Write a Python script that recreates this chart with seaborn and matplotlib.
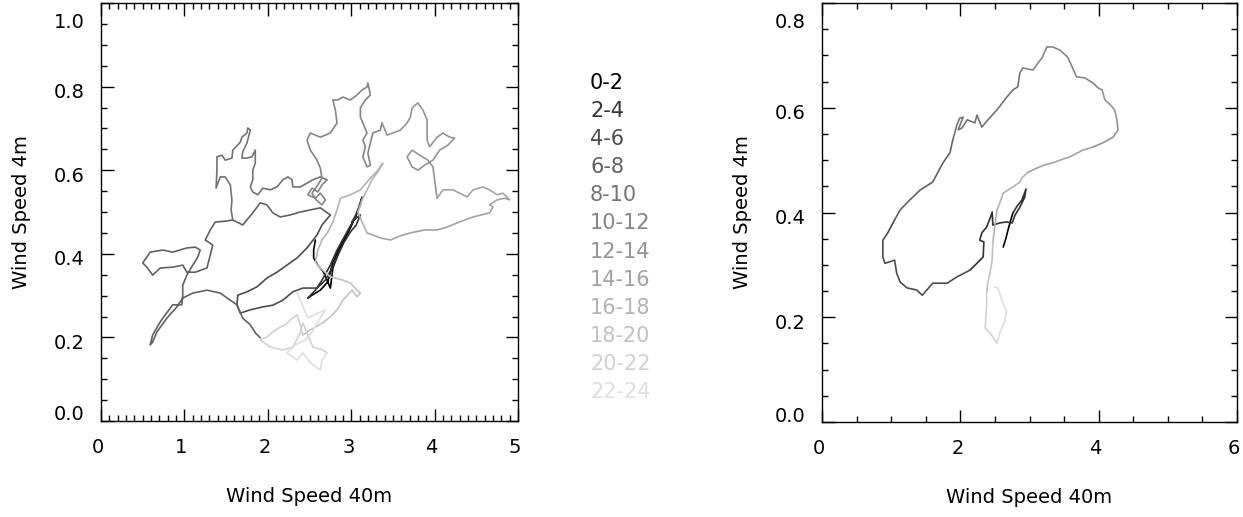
import matplotlib
matplotlib.use("Agg")
import matplotlib.pyplot as plt
import matplotlib.transforms as mtransforms
import seaborn as sns
import pandas as pd
from matplotlib.ticker import MultipleLocator

sns.set_theme(style="white")
plt.rcParams['font.family'] = ['DejaVu Sans']

HOURS = ["0-2", "2-4", "4-6", "6-8", "8-10", "10-12", "12-14",
         "14-16", "16-18", "18-20", "20-22", "22-24"]

# ---------------- left panel (40m vs 4m) ----------------
lx_00 = [2.57, 2.55, 2.55, 2.60, 2.67, 2.71, 2.75, 2.77, 2.78, 2.84, 2.93, 2.99, 3.02, 2.96, 2.87, 2.78, 2.72, 2.63, 2.53, 2.48]
ly_00 = [0.433, 0.409, 0.390, 0.373, 0.356, 0.337, 0.318, 0.349, 0.366, 0.397, 0.438, 0.462, 0.476, 0.452, 0.419, 0.380, 0.333, 0.313, 0.301, 0.294]
lx_02 = [2.48, 2.57, 2.65, 2.75, 2.83, 2.91, 2.99, 3.05, 3.08, 3.13, 3.11, 3.06, 3.01, 3.03, 3.11, 3.06, 2.99, 2.91, 2.84, 2.77, 2.69, 2.59]
ly_02 = [0.294, 0.313, 0.337, 0.373, 0.409, 0.438, 0.467, 0.486, 0.505, 0.536, 0.517, 0.495, 0.476, 0.481, 0.493, 0.469, 0.452, 0.426, 0.397, 0.366, 0.337, 0.318]
lx_04 = [2.59, 2.42, 2.30, 2.18, 2.06, 1.94, 1.79, 1.67, 1.63, 1.64, 1.75, 1.87, 1.99, 2.11, 2.23, 2.35, 2.47, 2.59, 2.65, 2.75]
ly_04 = [0.318, 0.318, 0.309, 0.289, 0.277, 0.273, 0.266, 0.258, 0.278, 0.301, 0.309, 0.321, 0.342, 0.356, 0.373, 0.390, 0.414, 0.445, 0.469, 0.493]
lx_06 = [2.75, 2.63, 2.51, 2.39, 2.27, 2.15, 2.06, 1.99, 1.91, 1.82, 1.70, 1.58, 1.49, 1.37, 1.31, 1.25, 1.34, 1.31, 1.27, 1.13,
         1.03, 0.98, 0.86, 0.71, 0.62, 0.55, 0.50, 0.59, 0.74, 0.86, 1.03, 1.13, 1.19, 1.16, 1.10, 1.03, 0.98, 0.98, 0.97, 0.86,
         0.77, 0.71, 0.62, 0.59, 0.62, 0.67, 0.79, 0.91, 0.98, 1.10, 1.27, 1.43, 1.55, 1.63, 1.70, 1.79, 1.85, 1.91]
ly_06 = [0.493, 0.510, 0.505, 0.500, 0.493, 0.488, 0.498, 0.517, 0.522, 0.498, 0.469, 0.481, 0.478, 0.476, 0.457, 0.433, 0.421, 0.397, 0.366, 0.356,
         0.356, 0.373, 0.368, 0.366, 0.349, 0.368, 0.378, 0.404, 0.409, 0.404, 0.414, 0.416, 0.409, 0.392, 0.373, 0.349, 0.325, 0.301, 0.278, 0.278,
         0.254, 0.237, 0.206, 0.182, 0.189, 0.213, 0.246, 0.273, 0.294, 0.306, 0.313, 0.306, 0.289, 0.278, 0.246, 0.230, 0.211, 0.199]
lx_08 = [1.58, 1.56, 1.57, 1.55, 1.49, 1.43, 1.38, 1.39, 1.39, 1.45, 1.49, 1.57, 1.58, 1.67, 1.69, 1.75, 1.76, 1.79, 1.75, 1.70, 1.69,
         1.75, 1.81, 1.85, 1.85, 1.82, 1.82, 1.79, 1.82, 1.88, 1.94, 2.03, 2.11, 2.18, 2.24, 2.29, 2.30, 2.39, 2.47, 2.54, 2.63, 2.71]
ly_08 = [0.481, 0.505, 0.529, 0.565, 0.584, 0.584, 0.557, 0.600, 0.632, 0.636, 0.624, 0.629, 0.648, 0.667, 0.679, 0.689, 0.701, 0.696, 0.665, 0.644, 0.629,
         0.629, 0.632, 0.648, 0.617, 0.600, 0.577, 0.560, 0.548, 0.541, 0.557, 0.553, 0.560, 0.577, 0.584, 0.577, 0.560, 0.560, 0.569, 0.577, 0.584, 0.577]
lx_10 = [2.71, 2.65, 2.60, 2.53, 2.48, 2.57, 2.63, 2.69, 2.65, 2.58, 2.53, 2.60, 2.65, 2.63, 2.59, 2.51, 2.47, 2.51, 2.63, 2.75, 2.83, 2.81, 2.78,
         2.84, 2.90, 2.99, 3.07, 3.13, 3.19, 3.20, 3.23, 3.17, 3.11, 3.11, 3.14, 3.19, 3.14, 3.17, 3.14, 3.19, 3.23, 3.20, 3.23, 3.26, 3.35, 3.37]
ly_10 = [0.577, 0.565, 0.548, 0.557, 0.541, 0.533, 0.545, 0.529, 0.517, 0.529, 0.545, 0.565, 0.581, 0.605, 0.624, 0.648, 0.672, 0.689, 0.679, 0.689, 0.713, 0.744, 0.768,
         0.768, 0.775, 0.768, 0.780, 0.792, 0.799, 0.809, 0.780, 0.768, 0.749, 0.727, 0.713, 0.689, 0.672, 0.656, 0.632, 0.608, 0.612, 0.641, 0.665, 0.689, 0.696, 0.713]
lx_12 = [3.37, 3.43, 3.50, 3.59, 3.67, 3.71, 3.73, 3.77, 3.80, 3.86, 3.91, 3.91, 3.94, 4.03, 4.10, 4.18, 4.24, 4.16, 4.06, 3.98, 3.88,
         3.80, 3.73, 3.67, 3.73, 3.82, 3.92, 3.98, 4.00, 4.03]
ly_12 = [0.713, 0.684, 0.689, 0.696, 0.713, 0.727, 0.749, 0.756, 0.761, 0.744, 0.720, 0.672, 0.656, 0.679, 0.689, 0.679, 0.677, 0.660, 0.648, 0.624, 0.612,
         0.600, 0.608, 0.632, 0.648, 0.636, 0.624, 0.608, 0.577, 0.533]
lx_14 = [4.03, 4.10, 4.22, 4.30, 4.39, 4.46, 4.58, 4.66, 4.75, 4.82, 4.90, 4.84, 4.75, 4.66, 4.70, 4.66, 4.46, 4.27, 4.15, 4.03, 3.88, 3.71, 3.59, 3.47, 3.35, 3.19]
ly_14 = [0.533, 0.553, 0.553, 0.545, 0.536, 0.553, 0.560, 0.553, 0.541, 0.545, 0.529, 0.533, 0.529, 0.517, 0.512, 0.498, 0.488, 0.474, 0.464, 0.457, 0.457, 0.450, 0.443, 0.433, 0.438, 0.450]
lx_16 = [3.19, 3.13, 3.08, 3.13, 3.19, 3.25, 3.32, 3.38, 3.32, 3.23, 3.11, 2.99, 2.87, 2.83, 2.78, 2.72, 2.65, 2.60, 2.57]
ly_16 = [0.450, 0.476, 0.500, 0.529, 0.553, 0.577, 0.596, 0.617, 0.600, 0.581, 0.553, 0.541, 0.533, 0.505, 0.476, 0.452, 0.433, 0.409, 0.380]
lx_18 = [2.57, 2.63, 2.75, 2.90, 2.99, 3.07, 3.11, 3.07, 3.01, 2.90, 2.83, 2.75, 2.66, 2.51, 2.42]
ly_18 = [0.380, 0.366, 0.345, 0.337, 0.330, 0.313, 0.306, 0.297, 0.313, 0.289, 0.266, 0.249, 0.235, 0.218, 0.206]
lx_20 = [2.42, 2.39, 2.35, 2.27, 2.21, 2.15, 2.06, 1.99, 1.91, 2.03, 2.18, 2.30, 2.39, 2.42, 2.47, 2.54, 2.66, 2.71]
ly_20 = [0.206, 0.230, 0.254, 0.242, 0.230, 0.225, 0.213, 0.201, 0.194, 0.177, 0.170, 0.177, 0.211, 0.235, 0.211, 0.177, 0.170, 0.163]
lx_22 = [2.71, 2.65, 2.63, 2.51, 2.42, 2.35, 2.23, 2.33, 2.45, 2.53, 2.60, 2.69, 2.48, 2.39, 2.35]
ly_22 = [0.163, 0.146, 0.122, 0.139, 0.163, 0.146, 0.163, 0.182, 0.194, 0.213, 0.237, 0.266, 0.247, 0.289, 0.309]

# ---------------- right panel ----------------
rx_00 = [2.62, 2.66, 2.69, 2.73, 2.76]
ry_00 = [0.334, 0.351, 0.367, 0.386, 0.399]
rx_02 = [2.76, 2.82, 2.89, 2.95, 2.93, 2.86, 2.79, 2.75, 2.66, 2.57, 2.47, 2.46, 2.43, 2.38, 2.31, 2.28, 2.34, 2.33, 2.24, 2.14]
ry_02 = [0.399, 0.412, 0.424, 0.445, 0.429, 0.410, 0.395, 0.380, 0.382, 0.380, 0.376, 0.401, 0.389, 0.372, 0.361, 0.347, 0.344, 0.315, 0.303, 0.290]
rx_04 = [2.14, 1.95, 1.81, 1.60, 1.45, 1.37, 1.23, 1.13, 1.08, 1.05, 0.91, 0.88, 0.88, 0.95, 1.05]
ry_04 = [0.290, 0.277, 0.265, 0.265, 0.242, 0.252, 0.256, 0.267, 0.284, 0.309, 0.303, 0.315, 0.347, 0.361, 0.386]
rx_06 = [1.05, 1.13, 1.27, 1.42, 1.60, 1.75, 1.85, 1.89]
ry_06 = [0.386, 0.405, 0.424, 0.443, 0.458, 0.495, 0.514, 0.538]
rx_08 = [1.89, 1.95, 1.99, 2.04, 1.97, 2.02, 2.10, 2.21, 2.24, 2.31, 2.40, 2.53, 2.67, 2.76, 2.83, 2.86]
ry_08 = [0.538, 0.567, 0.580, 0.582, 0.558, 0.561, 0.577, 0.571, 0.586, 0.563, 0.577, 0.596, 0.620, 0.634, 0.640, 0.666]
rx_10 = [2.86, 2.90, 3.05, 3.12, 3.18, 3.25, 3.34, 3.44, 3.55, 3.61, 3.68, 3.80, 3.92, 3.99, 4.05]
ry_10 = [0.666, 0.676, 0.672, 0.685, 0.695, 0.716, 0.716, 0.710, 0.697, 0.680, 0.659, 0.657, 0.647, 0.638, 0.634]
rx_12 = [4.05, 4.09, 4.16, 4.23, 4.26, 4.28, 4.21, 4.06, 3.92]
ry_12 = [0.634, 0.615, 0.607, 0.596, 0.580, 0.558, 0.544, 0.533, 0.525]
rx_14 = [3.92, 3.77, 3.58, 3.44, 3.34, 3.22, 3.11, 2.98]
ry_14 = [0.525, 0.519, 0.506, 0.500, 0.495, 0.491, 0.485, 0.477]
rx_16 = [2.98, 2.89, 2.86, 2.76, 2.62, 2.57, 2.53, 2.50, 2.47]
ry_16 = [0.477, 0.466, 0.458, 0.449, 0.437, 0.418, 0.405, 0.376, 0.342]
rx_18 = [2.47, 2.46, 2.43, 2.40, 2.38]
ry_18 = [0.342, 0.309, 0.286, 0.267, 0.246]
rx_20 = [2.38, 2.38, 2.37, 2.36, 2.43, 2.53]
ry_20 = [0.246, 0.223, 0.199, 0.179, 0.170, 0.151]
rx_22 = [2.53, 2.57, 2.64, 2.67, 2.60, 2.54, 2.49]
ry_22 = [0.151, 0.170, 0.191, 0.210, 0.233, 0.256, 0.258]

left_x = [lx_00, lx_02, lx_04, lx_06, lx_08, lx_10, lx_12, lx_14, lx_16, lx_18, lx_20, lx_22]
left_y = [ly_00, ly_02, ly_04, ly_06, ly_08, ly_10, ly_12, ly_14, ly_16, ly_18, ly_20, ly_22]
right_x = [rx_00, rx_02, rx_04, rx_06, rx_08, rx_10, rx_12, rx_14, rx_16, rx_18, rx_20, rx_22]
right_y = [ry_00, ry_02, ry_04, ry_06, ry_08, ry_10, ry_12, ry_14, ry_16, ry_18, ry_20, ry_22]

LEFT_XTICKS = [0, 1, 2, 3, 4, 5]
RIGHT_XTICKS = [0, 2, 4, 6]
LEFT_YTICKS = [0.0, 0.2, 0.4, 0.6, 0.8, 1.0]
RIGHT_YTICKS = [0.0, 0.2, 0.4, 0.6, 0.8]


def frame(xs, ys):
    rows = []
    for h, xa, ya in zip(HOURS, xs, ys):
        for k, (a, b) in enumerate(zip(xa, ya)):
            rows.append({"hour": h, "step": k, "ws40": a, "ws4": b})
    return pd.DataFrame(rows)


grays = [0.0, 0.2, 0.3, 0.38, 0.45, 0.52, 0.58, 0.64, 0.7, 0.76, 0.82, 0.87]
palette = {h: (g, g, g) for h, g in zip(HOURS, grays)}

fig = plt.figure(figsize=(12.43, 5.17), dpi=100)
ax1 = fig.add_axes([101 / 1243, 1 - 421 / 517, 417 / 1243, 418 / 517])
ax2 = fig.add_axes([822 / 1243, 1 - 422 / 517, 415 / 1243, 419 / 517])

for ax, xs, ys in ((ax1, left_x, left_y), (ax2, right_x, right_y)):
    df = frame(xs, ys)
    sns.lineplot(data=df, x="ws40", y="ws4", hue="hour", hue_order=HOURS,
                 palette=palette, sort=False, estimator=None, legend=False,
                 linewidth=1.2, ax=ax)

FS = 14
for ax, xt, yt, xmin in ((ax1, LEFT_XTICKS, LEFT_YTICKS, 0.1),
                         (ax2, RIGHT_XTICKS, RIGHT_YTICKS, 0.5)):
    ax.set_xlim(xt[0], xt[-1])
    ax.set_ylim(yt[0], yt[-1])
    ax.set_xticks(xt)
    ax.set_xticklabels([str(v) for v in xt])
    ax.set_yticks(yt)
    ax.set_yticklabels([f"{v:.1f}" for v in yt])
    ax.xaxis.set_minor_locator(MultipleLocator(xmin))
    ax.yaxis.set_minor_locator(MultipleLocator(0.05))
    ax.tick_params(which="both", direction="in", top=True, right=True,
                   bottom=True, left=True, color="black", width=1.0,
                   labelsize=FS, labelcolor="black")
    ax.tick_params(which="major", length=9, pad=12)
    ax.tick_params(which="minor", length=4.5)
    ax.set_xlabel("Wind Speed 40m", fontsize=FS, labelpad=22, color="black")
    ax.set_ylabel("Wind Speed 4m", fontsize=FS, labelpad=16, color="black")
    for sp in ax.spines.values():
        sp.set_visible(True)
        sp.set_color("black")
        sp.set_linewidth(1.0)
    ax.set_facecolor("white")
    # IDL-like placement: labels sit slightly below their ticks,
    # end labels pulled inside the frame
    labels = ax.get_yticklabels()
    n = len(labels)
    for k, lab in enumerate(labels):
        if k == 0:
            dy = 8
        elif k == n - 1:
            dy = -18
        else:
            dy = -4
        lab.set_transform(lab.get_transform() +
                          mtransforms.ScaledTranslation(0, dy / 100, fig.dpi_scale_trans))
    for lab in ax.get_xticklabels():
        lab.set_transform(lab.get_transform() +
                          mtransforms.ScaledTranslation(-3 / 100, 0, fig.dpi_scale_trans))

# hour legend as coloured text column
for i, (h, g) in enumerate(zip(HOURS, grays)):
    ypx = 83 + i * 28.1
    fig.text(590 / 1243, 1 - ypx / 517, h, color=(g, g, g), fontsize=15,
             ha="left", va="center")

fig.savefig("out.png", dpi=100, facecolor="white")
